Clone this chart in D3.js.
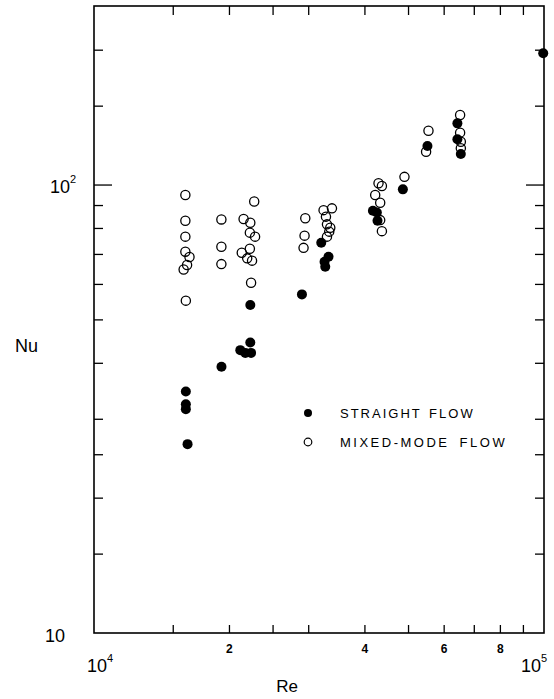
<!DOCTYPE html>
<html>
<head>
<meta charset="utf-8">
<script src="https://cdn.jsdelivr.net/npm/d3@7"></script>
<style>
  html, body { margin: 0; padding: 0; background: #fff; }
  text { font-family: "Liberation Sans", Arial, sans-serif; fill: #000; }
</style>
</head>
<body>
<svg id="chart" width="554" height="699"></svg>
<script>
// ---- data ----
const straightRe = [1.60e4, 1.60e4, 1.60e4, 1.614e4, 1.92e4, 2.225e4, 2.225e4, 2.114e4, 2.169e4, 2.234e4,
  2.898e4, 3.199e4, 3.32e4, 3.253e4, 3.265e4, 4.167e4, 4.252e4, 4.266e4, 4.857e4, 5.508e4,
  6.42e4, 6.42e4, 6.534e4, 9.96e4];
const straightNu = [34.6, 32.4, 31.6, 26.4, 39.3, 54.0, 44.5, 42.8, 42.2, 42.2,
  57.0, 74.3, 69.2, 67.4, 65.7, 87.6, 86.8, 83.2, 97.8, 122.2,
  137.3, 126.5, 117.3, 196.8];
const mixedRe = [1.596e4, 1.596e4, 1.596e4, 1.596e4, 1.63e4, 1.61e4, 1.582e4, 1.60e4,
  1.919e4, 1.919e4, 1.919e4,
  2.27e4, 2.15e4, 2.225e4, 2.22e4, 2.28e4, 2.22e4, 2.13e4, 2.19e4, 2.245e4, 2.234e4,
  2.948e4, 2.937e4, 2.922e4,
  3.237e4, 3.379e4, 3.277e4, 3.294e4, 3.35e4, 3.332e4, 3.294e4,
  4.897e4, 4.288e4, 4.363e4, 4.216e4, 4.325e4, 4.325e4, 4.363e4,
  5.537e4, 5.47e4, 6.51e4, 6.51e4, 6.534e4, 6.534e4];
const mixedNu = [95.0, 83.2, 76.7, 71.0, 69.1, 66.3, 64.8, 55.2,
  83.8, 72.8, 66.6,
  91.9, 84.0, 82.4, 78.3, 76.7, 72.1, 70.6, 68.6, 67.8, 60.5,
  84.3, 77.1, 72.4,
  87.9, 88.7, 85.0, 81.7, 80.3, 78.7, 76.7,
  104.3, 100.9, 99.5, 95.0, 91.3, 83.5, 78.9,
  132.2, 118.7, 143.3, 130.9, 124.9, 120.8];

const xTicks = [1.5e4, 2e4, 2.5e4, 3e4, 4e4, 5e4, 6e4, 7e4, 8e4, 9e4];
const xTickLabels = [{v: 2e4, t: "2"}, {v: 4e4, t: "4"}, {v: 6e4, t: "6"}, {v: 8e4, t: "8"}];
const yTicks = [15, 20, 25, 30, 40, 50, 60, 70, 80, 90, 100, 150, 200];
const yMajor = [100];
const legendLabels = ["STRAIGHT FLOW", "MIXED-MODE FLOW"];

// ---- layout ----
const L = 94, R = 544, T = 6, B = 633;
const x = d3.scaleLog().domain([1e4, 1e5]).range([L, R]);
const y = d3.scaleLog().domain([10, 251]).range([B, T]);

const svg = d3.select("#chart");

// frame
svg.append("rect").attr("x", L).attr("y", T).attr("width", R - L).attr("height", B - T)
  .attr("fill", "none").attr("stroke", "#000").attr("stroke-width", 1.6);

// x ticks (bottom & top, inward)
const g = svg.append("g").attr("stroke", "#000").attr("stroke-width", 1.3);
xTicks.forEach(v => {
  g.append("line").attr("x1", x(v)).attr("x2", x(v)).attr("y1", B).attr("y2", B - 8);
  g.append("line").attr("x1", x(v)).attr("x2", x(v)).attr("y1", T).attr("y2", T + 9);
});
// y ticks (left & right, inward)
yTicks.forEach(v => {
  const len = yMajor.includes(v) ? 18 : 9;
  g.append("line").attr("x1", L).attr("x2", L + len).attr("y1", y(v)).attr("y2", y(v));
  g.append("line").attr("x1", R).attr("x2", R - len).attr("y1", y(v)).attr("y2", y(v));
});

// x tick labels
xTickLabels.forEach(d => {
  svg.append("text").attr("x", x(d.v)).attr("y", 653).attr("text-anchor", "middle")
    .attr("font-size", 12).attr("font-weight", "bold").text(d.t);
});
// decade labels
function powLabel(xStart, yBase, exp) {
  const t = svg.append("text").attr("x", xStart).attr("y", yBase).attr("font-size", 18);
  t.append("tspan").text("10");
  if (exp) t.append("tspan").attr("dy", -10).attr("font-size", 11).text(exp);
  return t;
}
powLabel(87, 672, "4");
powLabel(521, 672, "5");
svg.append("text").attr("x", 45).attr("y", 642).attr("font-size", 18).text("10");
powLabel(50, 193, "2");

// axis titles
svg.append("text").attr("x", 287).attr("y", 692).attr("text-anchor", "middle")
  .attr("font-size", 17).text("Re");
svg.append("text").attr("x", 15).attr("y", 352).attr("font-size", 18).text("Nu");

// data points
svg.append("g").selectAll("circle").data(straightRe.map((r, i) => [r, straightNu[i]]))
  .join("circle").attr("cx", d => x(d[0])).attr("cy", d => y(d[1])).attr("r", 5)
  .attr("fill", "#000");
svg.append("g").selectAll("circle").data(mixedRe.map((r, i) => [r, mixedNu[i]]))
  .join("circle").attr("cx", d => x(d[0])).attr("cy", d => y(d[1])).attr("r", 4.6)
  .attr("fill", "none").attr("stroke", "#000").attr("stroke-width", 1.3);

// legend
const lg = svg.append("g");
lg.append("circle").attr("cx", 308).attr("cy", 413).attr("r", 4).attr("fill", "#000");
lg.append("circle").attr("cx", 308).attr("cy", 442).attr("r", 3.8).attr("fill", "none")
  .attr("stroke", "#000").attr("stroke-width", 1.2);
lg.append("text").attr("x", 340).attr("y", 418).attr("font-size", 13)
  .attr("letter-spacing", 2).attr("word-spacing", 2).text(legendLabels[0]);
lg.append("text").attr("x", 340).attr("y", 447).attr("font-size", 13)
  .attr("letter-spacing", 2.5).attr("word-spacing", 4).text(legendLabels[1]);
</script>
</body>
</html>
